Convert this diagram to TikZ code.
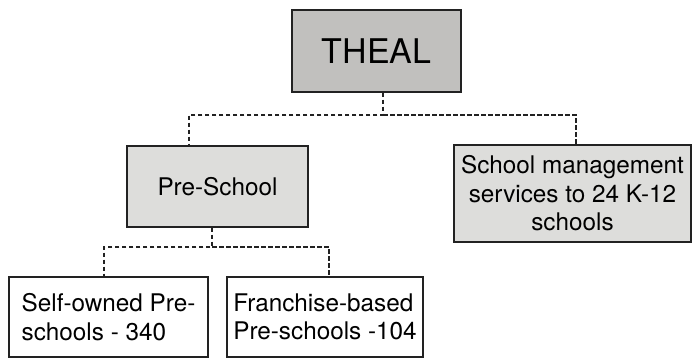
\documentclass[tikz,border=0pt]{standalone}
\usepackage{fontspec}
\setmainfont{TeX Gyre Heros}
\usetikzlibrary{positioning}
\definecolor{topgray}{HTML}{C1C0BE}
\definecolor{boxgray}{HTML}{DDDDDB}
\definecolor{edge}{HTML}{222222}

\begin{document}
\begin{tikzpicture}[x=1pt, y=-1pt,
        unit/.style={draw=edge, line width=1.4pt, inner sep=2pt, font=\fontsize{24.3}{28.5}\selectfont},
        link/.style={draw=edge, line width=1.6pt, dash pattern=on 4.5pt off 2.5pt}]
        \useasboundingbox (0,0) rectangle (692,359);

        % Top
        \node[unit, fill=topgray, minimum width=169pt, minimum height=82pt, font=\fontsize{34}{40}\selectfont] (theal) at (376.5,51) {THEAL};

        % Second level
        \node[unit, fill=boxgray, minimum width=181pt, minimum height=81pt] (pre) at (217.5,186.5) {Pre-School};
        \node[unit, fill=boxgray, minimum width=237pt, minimum height=97pt, align=center] (mgmt) at (572.5,193.5) {School management\\services to 24 K-12\\schools};

        % Third level
        \node[unit, fill=white, minimum width=199pt, minimum height=80pt, align=left] (self) at (108.5,317) {Self-owned Pre-\\schools - 340};
        \node[unit, fill=white, minimum width=196pt, minimum height=80pt, align=left] (fran) at (325,317) {Franchise-based\\Pre-schools -104};

        % Connectors
        \coordinate (bus1) at (0,115);
        \coordinate (bus2) at (0,247);
        \coordinate (t1) at ([xshift=6.5pt]theal.south);
        \coordinate (p1) at ([xshift=-5.5pt]pre.south);
        \draw[link] (t1) -- (t1 |- bus1) -| ([xshift=-28.5pt]pre.north);
        \draw[link] (t1 |- bus1) -| ([xshift=3.5pt]mgmt.north);
        \draw[link] (p1) -- (p1 |- bus2) -| ([xshift=-4.5pt]self.north);
        \draw[link] (p1 |- bus2) -| ([xshift=4pt]fran.north);
    \end{tikzpicture}
\end{document}
